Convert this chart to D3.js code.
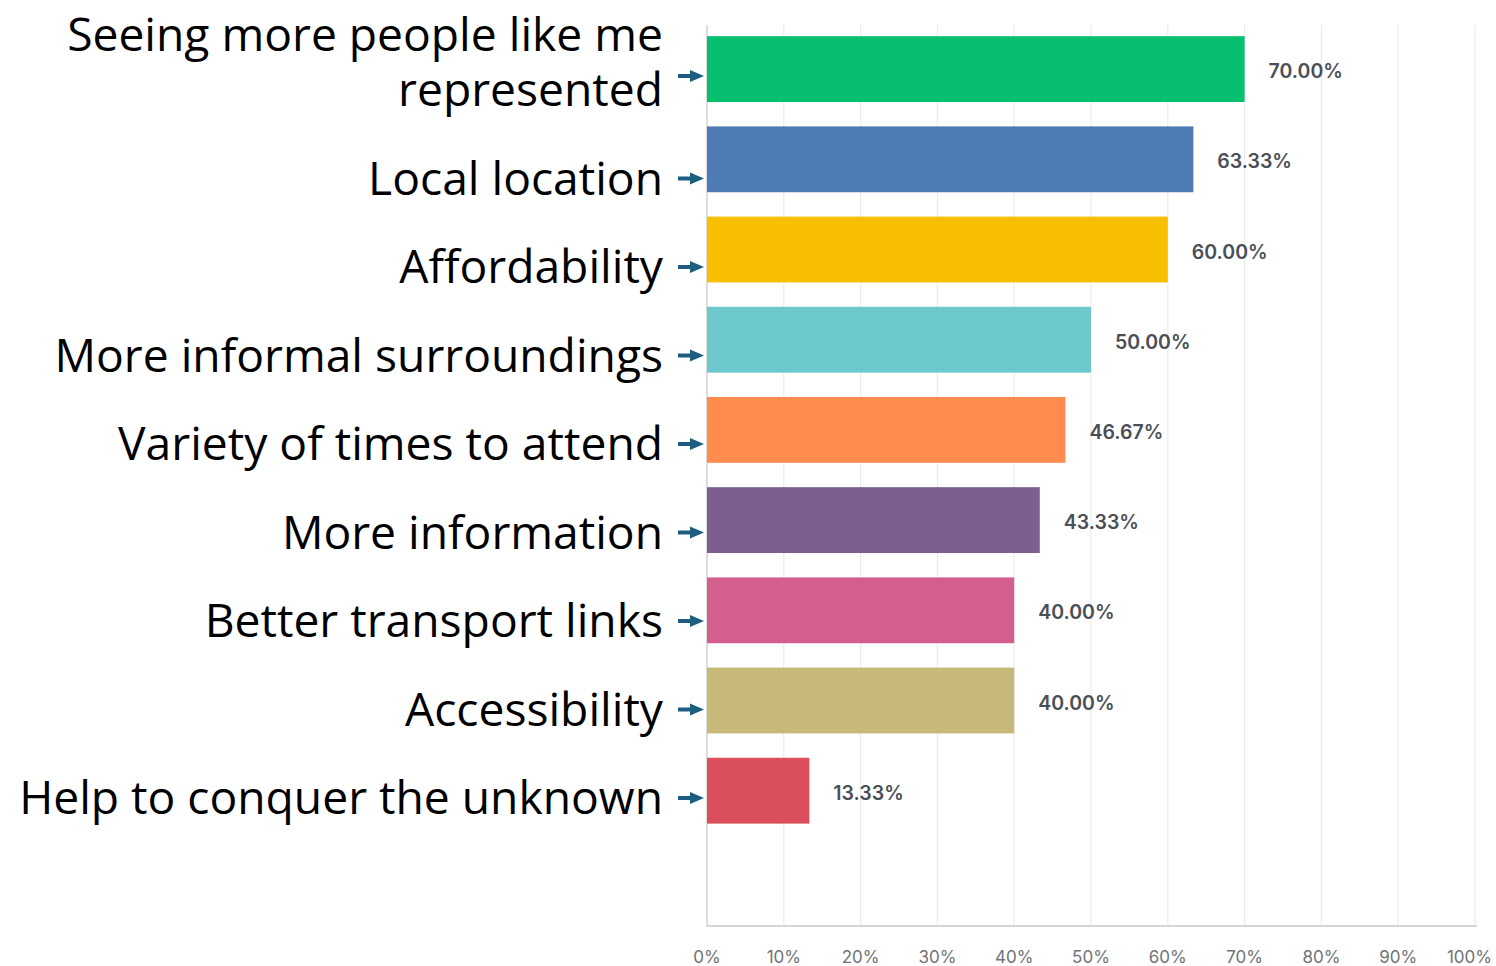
<!DOCTYPE html>
<html>
<head>
<meta charset="utf-8">
<script src="https://cdn.jsdelivr.net/npm/d3@7/dist/d3.min.js"></script>
<style>
  body { margin: 0; background: #fff; }
  svg { display: block; }
</style>
</head>
<body>
<script>
var categories = [
  ['Seeing more people like me', 'represented'],
  ['Local location'],
  ['Affordability'],
  ['More informal surroundings'],
  ['Variety of times to attend'],
  ['More information'],
  ['Better transport links'],
  ['Accessibility'],
  ['Help to conquer the unknown']
];
var values = [70.00, 63.33, 60.00, 50.00, 46.67, 43.33, 40.00, 40.00, 13.33];
var colors = ['#06bf6f', '#4f7cb5', '#f7bf00', '#6cc8cd', '#ff8b4f', '#7c5e8f', '#d45f8e', '#c7b97a', '#db4e5b'];
var ticks = [0, 10, 20, 30, 40, 50, 60, 70, 80, 90, 100];

var W = 1496, H = 966;
var svg = d3.select('body').append('svg').attr('width', W).attr('height', H);

var ids = d3.range(categories.length);
var x = d3.scaleLinear().domain([0, 100]).range([707, 1475]);
// ten slots in the plot, nine used
var y = d3.scaleBand().domain(ids).range([24, 24 + 9 * 90.2]).paddingInner(0.27).paddingOuter(0.135);
// the text labels sit on their own spacing
var labelY = d3.scalePoint().domain(ids).range([106, 814]);

// grid
svg.append('g').selectAll('line').data(ticks.slice(1)).join('line')
  .attr('x1', function(d){ return x(d); }).attr('x2', function(d){ return x(d); })
  .attr('y1', 25).attr('y2', 926)
  .attr('stroke', '#ececec').attr('stroke-width', 1.2);

svg.append('line').attr('x1', x(0)).attr('x2', x(0)).attr('y1', 25).attr('y2', 927)
  .attr('stroke', '#d2d2d2').attr('stroke-width', 1.5);
svg.append('line').attr('x1', x(0)).attr('x2', x(100) + 2).attr('y1', 926).attr('y2', 926)
  .attr('stroke', '#d6d6d6').attr('stroke-width', 2);

// tick labels (the last one is pulled in so it stays on the page)
svg.append('g').selectAll('text').data(ticks).join('text')
  .attr('x', function(d){ return d === 100 ? W - 4 : x(d); }).attr('y', 963)
  .attr('text-anchor', function(d){ return d === 100 ? 'end' : 'middle'; })
  .attr('font-family', 'Inter, sans-serif').attr('font-size', 17)
  .attr('fill', '#6f7378')
  .text(function(d){ return d + '%'; });

// bars
svg.append('g').selectAll('rect').data(ids).join('rect')
  .attr('x', x(0)).attr('y', function(i){ return y(i); })
  .attr('width', function(i){ return x(values[i]) - x(0); })
  .attr('height', y.bandwidth())
  .attr('fill', function(i){ return colors[i]; });

// value labels
svg.append('g').selectAll('text').data(ids).join('text')
  .attr('x', function(i){ return x(values[i]) + 24; })
  .attr('y', function(i){ return y(i) + y.bandwidth() / 2 + 9; })
  .attr('font-family', 'Inter, sans-serif').attr('font-size', 19.5).attr('font-weight', 600)
  .attr('fill', '#4a4f57')
  .text(function(i){ return values[i].toFixed(2) + '%'; });

// category labels
var lab = svg.append('g').selectAll('text').data(ids).join('text')
  .attr('text-anchor', 'end')
  .attr('font-family', "'Open Sans', sans-serif").attr('font-size', 40)
  .attr('fill', '#000');
lab.selectAll('tspan').data(function(i){
    var n = categories[i].length;
    return categories[i].map(function(t, k){ return {t: t, y: labelY(i) - (n - 1 - k) * 55}; });
  }).join('tspan')
  .attr('x', 663).attr('y', function(d){ return d.y; })
  .text(function(d){ return d.t; });

// fit the longest label to the width it has in the picture
var longest = lab.filter(function(i){ return i === 8; }).node().getComputedTextLength();
var fs = 40 * 644 / longest;
lab.attr('font-size', fs);

// arrows
var arrows = svg.append('g').selectAll('g').data(ids).join('g')
  .attr('transform', function(i){
    var off = categories[i].length > 1 ? 30 : 16;
    return 'translate(0,' + (labelY(i) - off) + ')';
  });
arrows.append('rect').attr('x', 678).attr('y', -2).attr('width', 14).attr('height', 4).attr('fill', '#1b5e80');
arrows.append('path').attr('d', 'M690,-6L704,0L690,6Z').attr('fill', '#1b5e80');
</script>
</body>
</html>
